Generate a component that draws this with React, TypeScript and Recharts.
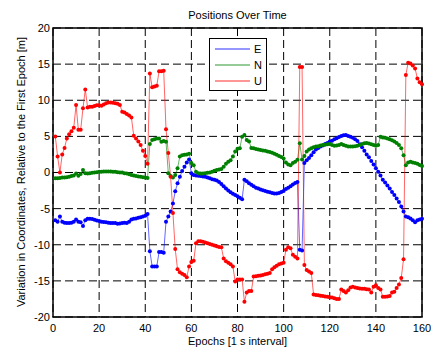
import { LineChart, Line, XAxis, YAxis, CartesianGrid, ReferenceArea } from 'recharts'

const FIRST_EPOCH = 1

// East component [m], one value per epoch
const EAST = [
  -6.6, -6.8, -6.1, -6.8, -6.95, -7.0, -7.0, -6.95, -6.8, -6.5,
  -6.8, -6.9, -7.4, -6.6, -6.4, -6.4, -6.45, -6.55, -6.65, -6.7,
  -6.8, -6.85, -6.9, -6.95, -7.0, -7.0, -7.0, -7.1, -7.05, -7.0,
  -6.95, -7.0, -6.8, -6.5, -6.4, -6.35, -6.25, -6.2, -6.1, -6.0,
  -5.75, -10.9, -13.0, -13.0, -13.0, -11.0, -11.0, -11.1, -6.8, -6.1,
  -5.4, -4.3, -2.6, -1.5, -0.6, 0.2, 0.8, 1.4, 1.8, -0.1,
  -0.35, -0.4, -0.45, -0.5, -0.55, -0.6, -0.7, -0.8, -0.95, -1.0,
  -1.1, -1.3, -1.6, -1.9, -2.2, -2.5, -2.75, -2.95, -3.1, -3.3,
  -3.5, -3.7, -1.0, -1.2, -1.5, -1.7, -1.9, -2.1, -2.2, -2.35,
  -2.45, -2.55, -2.65, -2.75, -2.85, -2.9, -2.9, -2.85, -2.7, -2.55,
  -2.3, -2.1, -1.9, -1.65, -1.45, -1.3, -10.7, -10.8, 1.3, 1.7,
  2.0, 2.4, 2.8, 3.2, 3.4, 3.6, 3.75, 3.95, 4.1, 4.3,
  4.4, 4.6, 4.75, 4.9, 5.05, 5.15, 5.2, 5.05, 4.95, 4.8,
  4.6, 4.35, 3.9, 3.5, 3.0, 2.5, 2.1, 1.6, 1.1, 0.6,
  0.1, -0.4, -1.0, -1.4, -1.8, -2.2, -2.7, -3.1, -3.6, -4.1,
  -4.7, -5.4, -6.1, -6.2, -6.35, -6.6, -6.9, -6.6, -6.5, -6.4,
]

// North component [m]
const NORTH = [
  -0.8, -0.8, -0.75, -0.7, -0.7, -0.65, -0.6, -0.5, -0.4, -0.15,
  -0.45, -0.2, 0.35, -0.1, -0.15, -0.1, -0.05, 0.0, 0.05, 0.1,
  0.1, 0.15, 0.15, 0.15, 0.15, 0.1, 0.1, 0.05, 0.0, 0.0,
  -0.1, -0.15, -0.25, -0.35, -0.4, -0.5, -0.55, -0.6, -0.65, -0.7,
  -0.75, 3.95, 4.5, 4.6, 4.7, 4.7, 4.25, 4.35, 4.25, -0.1,
  -0.5, -0.7, -0.35, 0.6, 2.2, 2.4, 2.45, 2.5, 2.6, 1.3,
  1.0, 0.1, -0.1, -0.15, -0.15, -0.1, -0.05, 0.0, 0.1, 0.25,
  0.35, 0.4, 0.5, 0.8, 1.2, 1.5, 1.7, 2.2, 2.9, 3.3,
  3.35, 4.95, 5.2, 4.5, 4.3, 3.4, 3.35, 3.25, 3.2, 3.1,
  3.05, 3.0, 2.9, 2.85, 2.75, 2.6, 2.45, 2.3, 2.15, 1.95,
  1.4, 1.1, 1.0, 1.3, 1.5, 1.75, 4.05, 1.8, 2.3, 2.9,
  3.2, 3.35, 3.5, 3.6, 3.65, 3.75, 3.8, 3.85, 3.9, 3.95,
  3.8, 3.7, 3.75, 3.8, 3.95, 3.8, 3.7, 3.6, 3.6, 3.6,
  3.65, 3.7, 3.8, 3.95, 4.05, 4.1, 4.0, 3.9, 3.8, 3.7,
  3.8, 4.95, 4.85, 4.8, 4.7, 4.6, 4.45, 4.3, 4.1, 3.8,
  3.35, 2.4, 1.0, 1.4, 1.5, 1.4, 1.3, 1.2, 1.05, 0.9,
]

// Up component [m]
const UP = [
  5.0, 2.2, 0.0, 2.5, 3.4, 4.7, 5.3, 5.7, 6.2, 9.35,
  5.9, 5.9, 8.9, 11.5, 9.0, 9.1, 9.1, 9.2, 9.3, 9.3,
  9.25, 9.4, 9.6, 9.7, 9.7, 9.65, 9.6, 9.5, 9.35, 8.4,
  8.3, 8.1, 7.9, 7.6, 5.1, 4.7, 4.3, 3.8, 3.0, 2.3,
  1.2, 13.7, 11.8, 11.9, 12.0, 14.0, 14.0, 14.1, 6.0, 2.7,
  -0.6, -5.6, -10.6, -13.4, -13.8, -14.0, -14.2, -14.5, -13.0, -12.4,
  -12.2, -9.8, -9.5, -9.5, -9.6, -9.7, -9.8, -9.9, -10.0, -10.1,
  -10.2, -10.3, -10.35, -11.9, -12.3, -12.5, -12.7, -13.0, -15.1, -14.8,
  -14.8, -14.8, -17.9, -16.6, -16.4, -16.4, -14.4, -14.35, -14.3, -14.25,
  -14.2, -14.1, -14.0, -13.9, -13.4, -13.1, -12.9, -12.7, -12.6, -12.5,
  -10.7, -10.35, -10.5, -11.4, -11.65, -11.9, 14.6, 14.6, -12.8, -13.5,
  -13.7, -13.9, -16.9, -16.95, -17.0, -17.05, -17.1, -17.15, -17.2, -17.25,
  -17.3, -17.4, -17.5, -17.5, -16.2, -16.4, -16.6, -16.3, -15.9, -15.8,
  -15.9, -16.0, -16.05, -16.1, -16.1, -16.15, -16.2, -16.6, -15.8, -15.6,
  -16.0, -16.2, -17.2, -17.2, -17.15, -17.1, -16.6, -16.5, -16.0, -15.5,
  -14.6, -12.0, 13.5, 15.2, 15.1, 14.8, 14.4, 13.0, 12.5, 12.2,
]

const X_TICKS = [0, 20, 40, 60, 80, 100, 120, 140, 160]
const Y_TICKS = [-20, -15, -10, -5, 0, 5, 10, 15, 20]

const SERIES = [
  { key: 'E', color: '#0000ff' },
  { key: 'N', color: '#008000' },
  { key: 'U', color: '#ff0000' },
]

const data = EAST.map((e, i) => ({ epoch: FIRST_EPOCH + i, E: e, N: NORTH[i], U: UP[i] }))

const FONT = '"Liberation Sans", Arial, Helvetica, sans-serif'
const tickStyle = { fill: '#000', fontSize: 11, fontFamily: FONT }

const renderYLabel = () => (
  <text
    x={25}
    y={172}
    transform="rotate(-90 25 172)"
    textAnchor="middle"
    fontSize={11}
    fontFamily={FONT}
    fill="#000"
  >
    Variation in Coordinates, Relative to the First Epoch [m]
  </text>
)

const renderXLabel = () => (
  <text x={237.5} y={345} textAnchor="middle" fontSize={11} fontFamily={FONT} fill="#000">
    Epochs [1 s interval]
  </text>
)

export default function App() {
  return (
    <div style={{ position: 'absolute', left: 0, top: 0, width: 433, height: 351, background: '#fff' }}>
      <div
        style={{
          position: 'absolute', top: 9, left: 53, width: 369, textAlign: 'center',
          fontFamily: FONT, fontSize: 11, lineHeight: '12px', color: '#000',
        }}
      >
        Positions Over Time
      </div>

      <LineChart width={433} height={351} data={data} margin={{ top: 28, right: 11, bottom: 0, left: 0 }}>
        <CartesianGrid stroke="#000" strokeDasharray="8 4" />
        <XAxis
          dataKey="epoch"
          type="number"
          domain={[0, 160]}
          ticks={X_TICKS}
          height={34}
          axisLine={false}
          tickLine={false}
          tickSize={5}
          tickMargin={2}
          tick={tickStyle}
          label={renderXLabel}
        />
        <YAxis
          type="number"
          domain={[-20, 20]}
          ticks={Y_TICKS}
          width={53}
          axisLine={false}
          tickLine={false}
          tickSize={1}
          tickMargin={2}
          tick={tickStyle}
          label={renderYLabel}
        />
        <ReferenceArea x1={0} x2={160} y1={-20} y2={20} fill="none" stroke="#000" strokeWidth={1.5} />
        {SERIES.map((s) => (
          <Line
            key={s.key}
            dataKey={s.key}
            type="linear"
            stroke={s.color}
            strokeOpacity={0.6}
            strokeWidth={1}
            dot={{ r: 2, fill: s.color, stroke: 'none' }}
            activeDot={false}
            isAnimationActive={false}
          />
        ))}
      </LineChart>

      <div
        style={{
          position: 'absolute', left: 209, top: 38, width: 56, height: 51,
          border: '1px solid #000', background: '#fff', fontFamily: FONT, fontSize: 11,
        }}
      >
        {SERIES.map((s, i) => (
          <div key={s.key} style={{ position: 'absolute', left: 5, top: 3 + i * 16, height: 14, display: 'flex', alignItems: 'center' }}>
            <svg width={35} height={14}>
              <line x1={0} x2={35} y1={7} y2={7} stroke={s.color} strokeOpacity={0.55} strokeWidth={1.5} />
            </svg>
            <span style={{ marginLeft: 4, lineHeight: '14px' }}>{s.key}</span>
          </div>
        ))}
      </div>
    </div>
  )
}
